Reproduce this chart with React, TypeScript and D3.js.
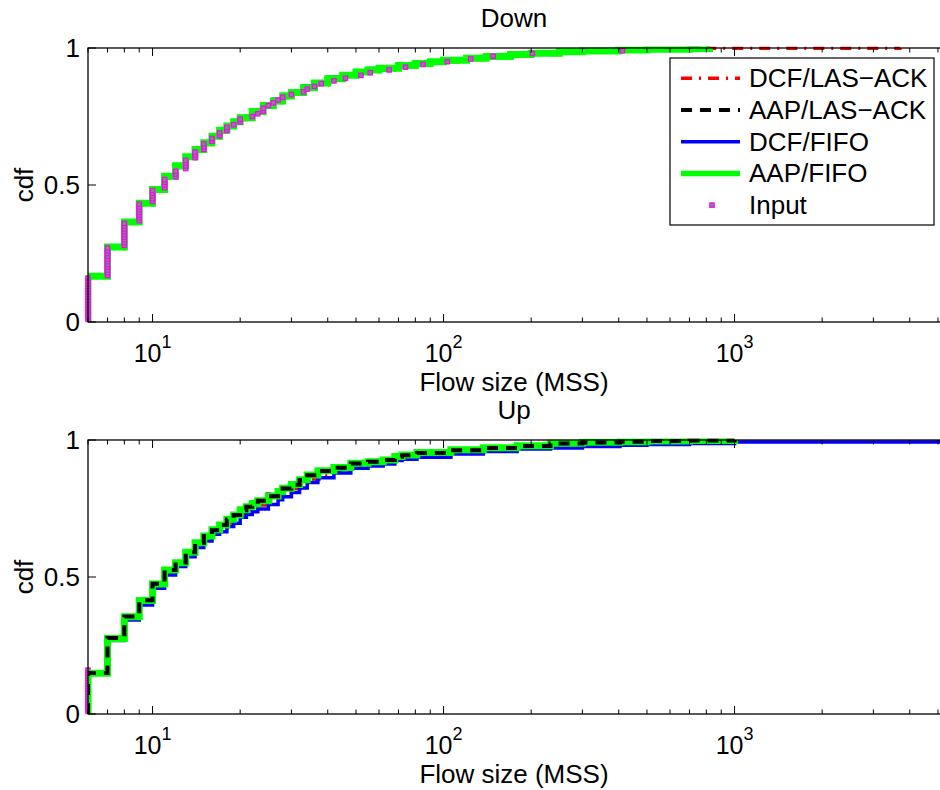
import React from 'react';
import * as d3 from 'd3';

const W = 940;
const H = 790;
const FONT = '"Liberation Sans", Arial, Helvetica, sans-serif';
const FS = 26;

// ---------- data: "Down" panel ----------
const downSizes = [6, 7, 8, 9, 10, 11, 12, 13, 14, 15, 16, 17, 18, 19, 20, 22, 24, 26, 28, 30, 33, 36, 40, 45, 50, 55, 60, 70, 80, 90, 100, 120, 140, 170, 200, 250, 300, 400, 500, 700, 820, 3700];
const downDcfLas = [0.165, 0.268, 0.360, 0.428, 0.479, 0.526, 0.564, 0.597, 0.624, 0.648, 0.672, 0.693, 0.709, 0.725, 0.739, 0.762, 0.784, 0.801, 0.818, 0.832, 0.849, 0.866, 0.882, 0.895, 0.906, 0.914, 0.920, 0.930, 0.938, 0.945, 0.950, 0.958, 0.964, 0.971, 0.976, 0.981, 0.985, 0.990, 0.993, 0.996, 0.999, 1.0];
const downAapLas = [0.167, 0.274, 0.365, 0.433, 0.484, 0.531, 0.569, 0.602, 0.629, 0.653, 0.677, 0.699, 0.714, 0.730, 0.744, 0.767, 0.789, 0.806, 0.824, 0.837, 0.854, 0.871, 0.887, 0.900, 0.911, 0.919, 0.925, 0.935, 0.942, 0.949, 0.954, 0.962, 0.968, 0.975, 0.980, 0.985, 0.988, 0.992, 0.995, 0.998, 1.0, null];
const downDcfFifo = [0.167, 0.274, 0.366, 0.434, 0.485, 0.533, 0.572, 0.605, 0.633, 0.657, 0.681, 0.703, 0.719, 0.735, 0.750, 0.773, 0.795, 0.813, 0.830, 0.844, 0.861, 0.877, 0.893, 0.906, 0.917, 0.925, 0.931, 0.940, 0.947, 0.953, 0.958, 0.966, 0.971, 0.978, 0.983, 0.988, 0.991, 0.995, 0.997, 1.0, null, null];
const downAapFifo = [0.167, 0.274, 0.365, 0.433, 0.484, 0.532, 0.570, 0.603, 0.630, 0.654, 0.678, 0.700, 0.715, 0.731, 0.745, 0.768, 0.790, 0.807, 0.825, 0.838, 0.855, 0.872, 0.888, 0.901, 0.912, 0.920, 0.926, 0.936, 0.943, 0.950, 0.955, 0.963, 0.969, 0.976, 0.981, 0.986, 0.989, 0.993, 0.995, 0.998, 1.0, null];
const downInputSizes = [6, 7, 8, 9, 10, 11, 12, 13, 14, 15, 16, 17, 18, 19, 20, 22, 23, 24, 25, 26, 27, 28, 30, 33, 34, 36, 38, 42, 46, 52, 56, 65, 74, 85, 103, 124, 148, 202, 412, 820];
const downInputCdf = [0.16, 0.27, 0.36, 0.43, 0.48, 0.52, 0.555, 0.595, 0.625, 0.65, 0.67, 0.69, 0.71, 0.725, 0.74, 0.755, 0.765, 0.78, 0.79, 0.80, 0.81, 0.82, 0.83, 0.84, 0.85, 0.86, 0.87, 0.88, 0.89, 0.90, 0.91, 0.92, 0.93, 0.94, 0.95, 0.96, 0.97, 0.98, 0.99, 1.0];

// ---------- data: "Up" panel ----------
const upSizes = [6, 7, 8, 9, 10, 11, 12, 13, 14, 15, 16, 17, 18, 19, 20, 21, 22, 23, 25, 27, 28, 30, 32, 34, 37, 42, 48, 55, 62, 68, 72, 81, 106, 137, 179, 233, 300, 404, 500, 700, 1000, 20000];
const upDcfLas = [0.147, 0.272, 0.349, 0.406, 0.466, 0.516, 0.545, 0.582, 0.616, 0.640, 0.664, 0.678, 0.697, 0.711, 0.731, 0.742, 0.753, 0.763, 0.780, 0.797, 0.808, 0.823, 0.840, 0.858, 0.875, 0.890, 0.906, 0.913, 0.920, 0.933, 0.938, 0.946, 0.957, 0.965, 0.973, 0.980, 0.984, 0.988, 0.991, 0.995, 1.0, null];
const upAapLas = [0.150, 0.277, 0.356, 0.415, 0.475, 0.526, 0.553, 0.590, 0.624, 0.650, 0.671, 0.690, 0.710, 0.726, 0.744, 0.756, 0.767, 0.778, 0.795, 0.811, 0.823, 0.837, 0.854, 0.871, 0.887, 0.899, 0.914, 0.921, 0.927, 0.939, 0.944, 0.953, 0.963, 0.971, 0.978, 0.987, 0.991, 0.994, 0.996, 0.998, 1.0, null];
const upDcfFifo = [0.145, 0.268, 0.343, 0.398, 0.459, 0.507, 0.538, 0.574, 0.608, 0.631, 0.656, 0.665, 0.684, 0.696, 0.718, 0.728, 0.738, 0.748, 0.765, 0.782, 0.793, 0.808, 0.825, 0.845, 0.862, 0.880, 0.897, 0.905, 0.912, 0.925, 0.930, 0.937, 0.949, 0.958, 0.967, 0.971, 0.976, 0.981, 0.984, 0.987, 0.993, 1.0];
const upAapFifo = [0.149, 0.276, 0.355, 0.414, 0.474, 0.526, 0.552, 0.590, 0.625, 0.650, 0.672, 0.690, 0.711, 0.726, 0.745, 0.756, 0.768, 0.778, 0.796, 0.812, 0.824, 0.838, 0.855, 0.872, 0.888, 0.900, 0.915, 0.921, 0.927, 0.940, 0.945, 0.954, 0.964, 0.972, 0.979, 0.988, 0.992, 0.994, 0.996, 0.998, 1.0, null];
const upInputSizes = [6, 7, 8, 9, 10, 11, 12, 13, 14, 15, 16, 17, 18, 19, 20, 22, 25, 28, 32, 37, 42, 48, 55, 68, 81, 106, 137, 179, 233, 404, 1000];
const upInputCdf = [0.16, 0.27, 0.35, 0.41, 0.47, 0.52, 0.55, 0.59, 0.62, 0.65, 0.67, 0.69, 0.71, 0.72, 0.74, 0.77, 0.80, 0.82, 0.85, 0.88, 0.90, 0.91, 0.92, 0.94, 0.95, 0.96, 0.97, 0.98, 0.99, 0.995, 1.0];

// ---------- labels ----------
const seriesNames = ['DCF/LAS\u2212ACK', 'AAP/LAS\u2212ACK', 'DCF/FIFO', 'AAP/FIFO', 'Input'];
const yTickValues = [0, 0.5, 1];
const yTickLabels = ['0', '0.5', '1'];
const xLabel = 'Flow size (MSS)';
const yLabel = 'cdf';

type LineStyle = { color: string; width: number; dash?: string };
const styles: LineStyle[] = [
  { color: '#ff0000', width: 3.5, dash: '11 7 2 7' },
  { color: '#000000', width: 4, dash: '11 8' },
  { color: '#0000ff', width: 3.5 },
  { color: '#00ff00', width: 7 },
];
const MARK_FILL = '#858585';
const MARK_STROKE = '#ff00ff';

const X0 = 88;
const X1 = 961;
const PH = 274;

function stairPath(x: any, y: any, sizes: number[], vals: (number | null)[]) {
  const pts: [number, number][] = [];
  sizes.forEach((s, i) => {
    const v = vals[i];
    if (v == null) return;
    if (pts.length === 0) pts.push([s, 0]);
    pts.push([s, v]);
  });
  return d3
    .line<[number, number]>()
    .x((d) => x(d[0]))
    .y((d) => y(d[1]))
    .curve(d3.curveStepAfter)(pts) || '';
}

function quantileMarks(sizes: number[], cdf: number[]) {
  return d3.range(1, 100).map((k) => {
    const p = k / 100;
    const i = cdf.findIndex((c) => c >= p - 1e-9);
    return [sizes[i], p] as [number, number];
  });
}

function Marker({ cx, cy }: { cx: number; cy: number }) {
  return <rect x={cx - 2.2} y={cy - 2.2} width={4.4} height={4.4} fill={MARK_FILL} stroke={MARK_STROKE} strokeWidth={1.2} />;
}

type PanelProps = {
  id: string;
  top: number;
  title: string;
  sizes: number[];
  series: (number | null)[][];
  order: number[];
  inputSizes: number[];
  inputCdf: number[];
  legend: boolean;
};

function Panel(p: PanelProps) {
  const bottom = p.top + PH;
  const x = d3.scaleLog().domain([6, 6000]).range([X0, X1]);
  const y = d3.scaleLinear().domain([0, 1]).range([bottom, p.top]);
  const ticks = x.ticks().filter((t) => t <= 6000);
  const isMajor = (t: number) => Math.abs(Math.log10(t) - Math.round(Math.log10(t))) < 1e-9;
  const marks = quantileMarks(p.inputSizes, p.inputCdf);
  const clipId = 'clip-' + p.id;

  const layers = p.order.map((idx) => {
    if (idx === -1) {
      return (
        <g key="input">
          {marks.map((m, i) => (
            <Marker key={i} cx={x(m[0])} cy={y(m[1])} />
          ))}
        </g>
      );
    }
    const st = styles[idx];
    return (
      <path
        key={idx}
        d={stairPath(x, y, p.sizes, p.series[idx])}
        fill="none"
        stroke={st.color}
        strokeWidth={st.width}
        strokeDasharray={st.dash}
        clipPath={`url(#${clipId})`}
      />
    );
  });

  const cx = (X0 + 940) / 2;

  return (
    <g>
      <defs>
        <clipPath id={clipId}>
          <rect x={X0} y={p.top - 1.5} width={X1 - X0} height={PH + 1.5} />
        </clipPath>
      </defs>
      <rect x={X0} y={p.top} width={X1 - X0} height={PH} fill="#fff" />
      {layers}
      <rect x={X0} y={p.top} width={X1 - X0} height={PH} fill="none" stroke="#000" strokeWidth={1.3} />
      {ticks.map((t, i) => {
        const len = isMajor(t) ? 8 : 4.5;
        const xx = x(t);
        return (
          <g key={i} stroke="#000" strokeWidth={1}>
            <line x1={xx} x2={xx} y1={bottom} y2={bottom - len} />
            <line x1={xx} x2={xx} y1={p.top} y2={p.top + len} />
          </g>
        );
      })}
      {yTickValues.map((v, i) => (
        <g key={i}>
          <line x1={X0} x2={X0 + 8} y1={y(v)} y2={y(v)} stroke="#000" strokeWidth={1} />
          <text x={X0 - 8} y={y(v) + 9} textAnchor="end" fontSize={FS} fontFamily={FONT}>
            {yTickLabels[i]}
          </text>
        </g>
      ))}
      {ticks.filter(isMajor).map((t, i) => (
        <text key={i} x={x(t)} y={bottom + 40} textAnchor="middle" fontSize={25} fontFamily={FONT}>
          10
          <tspan fontSize={18} dy={-14}>
            {String(Math.round(Math.log10(t)))}
          </tspan>
        </text>
      ))}
      <text x={cx} y={bottom + 69} textAnchor="middle" fontSize={FS} fontFamily={FONT}>
        {xLabel}
      </text>
      <text x={cx} y={p.top - 21} textAnchor="middle" fontSize={FS} fontFamily={FONT}>
        {p.title}
      </text>
      <text
        transform={`translate(33,${(p.top + bottom) / 2}) rotate(-90)`}
        textAnchor="middle"
        fontSize={FS}
        fontFamily={FONT}
      >
        {yLabel}
      </text>
      {p.legend && <Legend />}
    </g>
  );
}

function Legend() {
  const lx = 670;
  const ly = 58;
  const lw = 264;
  const lh = 167;
  const rowY = (i: number) => ly + 20.3 + i * 31.7;
  return (
    <g>
      <rect x={lx} y={ly} width={lw} height={lh} fill="#fff" stroke="#000" strokeWidth={1.2} />
      {seriesNames.map((name, i) => (
        <g key={i}>
          {i < 4 ? (
            <line
              x1={681}
              x2={740}
              y1={rowY(i)}
              y2={rowY(i)}
              stroke={styles[i].color}
              strokeWidth={i === 3 ? 5.5 : styles[i].width}
              strokeDasharray={styles[i].dash}
            />
          ) : (
            <Marker cx={712} cy={rowY(i)} />
          )}
          <text x={749} y={rowY(i) + 9} fontSize={FS} fontFamily={FONT}>
            {name}
          </text>
        </g>
      ))}
    </g>
  );
}

export default function App() {
  return (
    <svg width={W} height={H} style={{ display: 'block', position: 'absolute', left: 0, top: 0, background: '#fff' }}>
      <rect x={0} y={0} width={W} height={H} fill="#fff" />
      <Panel
        id="down"
        top={48}
        title="Down"
        sizes={downSizes}
        series={[downDcfLas, downAapLas, downDcfFifo, downAapFifo]}
        order={[0, 1, 2, 3, -1]}
        inputSizes={downInputSizes}
        inputCdf={downInputCdf}
        legend={true}
      />
      <Panel
        id="up"
        top={440}
        title="Up"
        sizes={upSizes}
        series={[upDcfLas, upAapLas, upDcfFifo, upAapFifo]}
        order={[-1, 0, 2, 3, 1]}
        inputSizes={upInputSizes}
        inputCdf={upInputCdf}
        legend={false}
      />
    </svg>
  );
}
